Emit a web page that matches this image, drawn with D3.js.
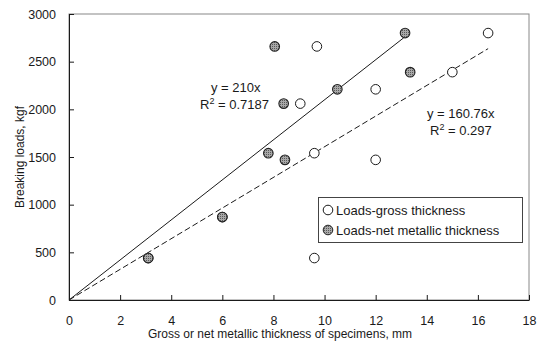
<!DOCTYPE html>
<html>
<head>
<meta charset="utf-8">
<script src="https://cdn.jsdelivr.net/npm/d3@7"></script>
<style>
  html, body { margin: 0; padding: 0; background: #fff; }
  svg { display: block; font-family: "Liberation Sans", Arial, sans-serif; }
</style>
</head>
<body>
<svg id="chart" width="543" height="353"></svg>
<script>
// ---- data ----
const xTicks = [0, 2, 4, 6, 8, 10, 12, 14, 16, 18];
const yTicks = [0, 500, 1000, 1500, 2000, 2500, 3000];

const grossX = [3.1, 6.0, 9.6, 9.6, 9.7, 9.05, 12.0, 12.0, 15.0, 16.4];
const grossY = [440, 870, 440, 1540, 2660, 2060, 1470, 2210, 2390, 2800];

const netX = [3.1, 6.0, 7.8, 8.05, 8.45, 8.4, 10.5, 13.15, 13.35];
const netY = [440, 870, 1540, 2660, 1470, 2060, 2210, 2800, 2390];

const netSlope = 210, netR2 = "0.7187", netMaxX = 13.1;
const grossSlope = 160.76, grossR2 = "0.297", grossMaxX = 16.4;

const legendLabels = ["Loads-gross thickness", "Loads-net metallic thickness"];
const xTitle = "Gross or net metallic thickness of specimens, mm";
const yTitle = "Breaking loads, kgf";

// ---- layout ----
const svg = d3.select("#chart");
const L = 69, R = 529, T = 14, B = 300;
const x = d3.scaleLinear().domain([0, 18]).range([L, R]);
const y = d3.scaleLinear().domain([0, 3000]).range([B, T]);
const ink = "#1a1a1a";

// hatched marker pattern
const defs = svg.append("defs");
const pat = defs.append("pattern").attr("id", "hatch").attr("patternUnits", "userSpaceOnUse")
  .attr("width", 2).attr("height", 2);
pat.append("rect").attr("width", 2).attr("height", 2).attr("fill", "#a8a8a8");
pat.append("rect").attr("width", 1).attr("height", 1).attr("fill", "#5a5a5a");

// plot frame
svg.append("rect").attr("x", L).attr("y", T).attr("width", R - L).attr("height", B - T)
  .attr("fill", "none").attr("stroke", "#888").attr("stroke-width", 1);

// axes (ticks inward)
const xAxis = svg.append("g").attr("transform", `translate(0,${B})`)
  .call(d3.axisBottom(x).tickValues(xTicks).tickSizeInner(-5).tickSizeOuter(0).tickPadding(16).tickFormat(d3.format("d")));
const yAxis = svg.append("g").attr("transform", `translate(${L},0)`)
  .call(d3.axisLeft(y).tickValues(yTicks).tickSizeInner(-5).tickSizeOuter(0).tickPadding(13).tickFormat(d3.format("d")));
[xAxis, yAxis].forEach(g => {
  g.select(".domain").attr("stroke", ink).attr("stroke-width", 1);
  g.selectAll(".tick line").attr("stroke", ink);
  g.selectAll(".tick text").attr("fill", ink).attr("font-size", 12.5)
    .attr("font-family", "'Liberation Sans', Arial, sans-serif");
});

// trend lines
svg.append("line")
  .attr("x1", x(0)).attr("y1", y(0)).attr("x2", x(netMaxX)).attr("y2", y(netSlope * netMaxX))
  .attr("stroke", ink).attr("stroke-width", 1);
svg.append("line")
  .attr("x1", x(0)).attr("y1", y(0)).attr("x2", x(grossMaxX)).attr("y2", y(grossSlope * grossMaxX))
  .attr("stroke", ink).attr("stroke-width", 1).attr("stroke-dasharray", "6,3");

// points
const r = 4.8;
svg.append("g").selectAll("circle").data(grossX.map((d, i) => [d, grossY[i]])).join("circle")
  .attr("cx", d => x(d[0])).attr("cy", d => y(d[1])).attr("r", r)
  .attr("fill", "#fff").attr("stroke", ink).attr("stroke-width", 1);
svg.append("g").selectAll("circle").data(netX.map((d, i) => [d, netY[i]])).join("circle")
  .attr("cx", d => x(d[0])).attr("cy", d => y(d[1])).attr("r", r)
  .attr("fill", "url(#hatch)").attr("stroke", "#222").attr("stroke-width", 1.1);

// annotations
function eqn(xp, yp, slopeText, r2) {
  const g = svg.append("g").attr("font-size", 13).attr("fill", ink);
  g.append("text").attr("x", xp.eq).attr("y", yp).text(`y = ${slopeText}x`);
  const t = g.append("text").attr("x", xp.r2).attr("y", yp + 17);
  t.append("tspan").text("R");
  t.append("tspan").attr("dy", -5).attr("font-size", 9).text("2");
  t.append("tspan").attr("dy", 5).text(` = ${r2}`);
}
eqn({eq: 211, r2: 200}, 92, String(netSlope), netR2);
eqn({eq: 427, r2: 430}, 118, String(grossSlope), grossR2);

// legend
const lg = svg.append("g");
lg.append("rect").attr("x", 318.5).attr("y", 197.5).attr("width", 204).attr("height", 45)
  .attr("fill", "#fff").attr("stroke", "#444").attr("stroke-width", 1);
legendLabels.forEach((lab, i) => {
  const cy = 210 + i * 20;
  lg.append("circle").attr("cx", 328).attr("cy", cy).attr("r", r)
    .attr("fill", i === 0 ? "#fff" : "url(#hatch)").attr("stroke", i === 0 ? ink : "#222");
  lg.append("text").attr("x", 336).attr("y", cy + 5).attr("font-size", 13).attr("fill", ink).text(lab);
});

// axis titles
svg.append("text").attr("x", 280).attr("y", 338).attr("text-anchor", "middle")
  .attr("font-size", 12).attr("fill", ink).text(xTitle);
svg.append("text").attr("transform", `translate(24,157) rotate(-90)`)
  .attr("text-anchor", "middle").attr("font-size", 12).attr("fill", ink).text(yTitle);
</script>
</body>
</html>
